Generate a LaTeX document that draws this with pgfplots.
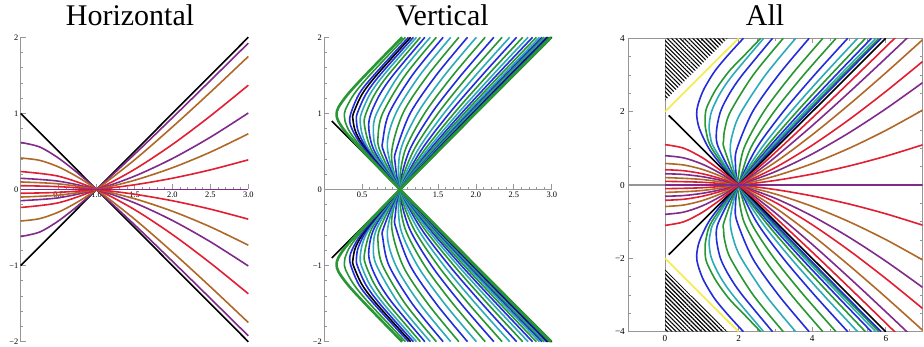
\documentclass[border=0pt]{standalone}
\usepackage{fontspec}
\setmainfont{Liberation Serif}
\usepackage{pgfplots}
\pgfplotsset{compat=1.18}
\usetikzlibrary{patterns.meta}

\definecolor{mpurple}{RGB}{128,42,140}
\definecolor{mbrown}{RGB}{176,104,40}
\definecolor{mred}{RGB}{225,30,50}
\definecolor{mblue}{RGB}{35,45,215}
\definecolor{mcyan}{RGB}{45,170,185}
\definecolor{mgreen}{RGB}{40,150,50}
\definecolor{myellow}{RGB}{245,235,70}
\definecolor{axgray}{RGB}{150,150,150}

\pgfplotsset{
  mid/.style={
    scale only axis, width=113.8pt, height=152.2pt, anchor=south west,
    xmin=0, xmax=3, ymin=-2, ymax=2, enlargelimits=false, clip=false,
    axis lines=middle,
    every inner x axis line/.append style={-},
    every inner y axis line/.append style={-},
    axis line style={axgray, line width=0.6pt},
    xtick={0.5,1,1.5,2,2.5,3}, xticklabels={0.5,1.0,1.5,2.0,2.5,3.0},
    ytick={-2,-1,0,1,2}, yticklabels={−2,−1,0,1,2},
    minor x tick num=4, minor y tick num=4,
    tick style={axgray, line width=0.4pt},
    major tick length=2.5pt, minor tick length=1.3pt,
    tick align=inside,
    tick label style={font=\fontsize{4.2}{5}\selectfont, inner sep=1pt},
    hide obscured x ticks=false, hide obscured y ticks=false,
    every axis plot/.append style={line width=0.8pt},
  },
}

\begin{document}
\begin{tikzpicture}
\useasboundingbox (0,0) rectangle (462pt,173.5pt);

% ---------------- Horizontal ----------------
\begin{axis}[mid, at={(10.35pt,2.65pt)}]
\addplot[black, sharp plot] coordinates {(0,1)(1,0)(3,-2)};
\addplot[black, sharp plot] coordinates {(0,-1)(1,0)(3,2)};
\addplot[mpurple, smooth] coordinates {(0,0.618)(0.25,0.559)(0.5,0.411)(0.75,0.217)(1,0)(1.5,-0.463)(2,-0.943)(2.5,-1.431)(3,-1.923)};
\addplot[mpurple, smooth] coordinates {(0,-0.618)(0.25,-0.559)(0.5,-0.411)(0.75,-0.217)(1,0)(1.5,0.463)(2,0.943)(2.5,1.431)(3,1.923)};
\addplot[mbrown, smooth] coordinates {(0,0.414)(0.25,0.383)(0.5,0.296)(0.75,0.164)(1,0)(1.5,-0.389)(2,-0.822)(2.5,-1.278)(3,-1.748)};
\addplot[mbrown, smooth] coordinates {(0,-0.414)(0.25,-0.383)(0.5,-0.296)(0.75,-0.164)(1,0)(1.5,0.389)(2,0.822)(2.5,1.278)(3,1.748)};
\addplot[mred, smooth] coordinates {(0,0.236)(0.5,0.174)(1,0)(1.5,-0.264)(2,-0.592)(2.5,-0.966)(3,-1.370)};
\addplot[mred, smooth] coordinates {(0,-0.236)(0.5,-0.174)(1,0)(1.5,0.264)(2,0.592)(2.5,0.966)(3,1.370)};
\addplot[mpurple, smooth] coordinates {(0,0.147)(0.5,0.109)(1,0)(1.5,-0.175)(2,-0.407)(2.5,-0.687)(3,-1.005)};
\addplot[mpurple, smooth] coordinates {(0,-0.147)(0.5,-0.109)(1,0)(1.5,0.175)(2,0.407)(2.5,0.687)(3,1.005)};
\addplot[mbrown, smooth] coordinates {(0,0.099)(0.5,0.074)(1,0)(1.5,-0.121)(2,-0.286)(2.5,-0.491)(3,-0.732)};
\addplot[mbrown, smooth] coordinates {(0,-0.099)(0.5,-0.074)(1,0)(1.5,0.121)(2,0.286)(2.5,0.491)(3,0.732)};
\addplot[mred, smooth] coordinates {(0,0.050)(0.5,0.0375)(1,0)(1.5,-0.062)(2,-0.148)(2.5,-0.258)(3,-0.390)};
\addplot[mred, smooth] coordinates {(0,-0.050)(0.5,-0.0375)(1,0)(1.5,0.062)(2,0.148)(2.5,0.258)(3,0.390)};
\addplot[mpurple, sharp plot] coordinates {(0,0)(3,0)};
\end{axis}

% ---------------- Vertical ----------------
\begin{axis}[mid, at={(162.1pt,2.65pt)}]
\addplot[black, sharp plot] coordinates {(0.1,0.9)(1,0)(3,2)};
\addplot[black, sharp plot] coordinates {(0.1,-0.9)(1,0)(3,-2)};
\addplot[mblue, smooth] coordinates {(2.236,-2)(1.803,-1.5)(1.414,-1)(1.118,-0.5)(1,0)(1.118,0.5)(1.414,1)(1.803,1.5)(2.236,2)};
\addplot[mgreen, smooth] coordinates {(2.345,-2)(1.903,-1.5)(1.500,-1)(1.172,-0.5)(1,0)(1.061,0.5)(1.323,1)(1.696,1.5)(2.122,2)};
\addplot[mgreen, smooth] coordinates {(2.345,2)(1.903,1.5)(1.500,1)(1.172,0.5)(1,0)(1.061,-0.5)(1.323,-1)(1.696,-1.5)(2.122,-2)};
\addplot[mcyan, smooth] coordinates {(2.445,-2)(1.996,-1.5)(1.578,-1)(1.223,-0.5)(1,0)(1.003,0.5)(1.229,1)(1.586,1.5)(2.005,2)};
\addplot[mcyan, smooth] coordinates {(2.445,2)(1.996,1.5)(1.578,1)(1.223,0.5)(1,0)(1.003,-0.5)(1.229,-1)(1.586,-1.5)(2.005,-2)};
\addplot[mblue, smooth] coordinates {(2.536,-2)(2.080,-1.5)(1.648,-1)(1.268,-0.5)(1,0)(0.934,0.358)(0.944,0.5)(1.133,1)(1.475,1.5)(1.889,2)};
\addplot[mblue, smooth] coordinates {(2.536,2)(2.080,1.5)(1.648,1)(1.268,0.5)(1,0)(0.934,-0.358)(0.944,-0.5)(1.133,-1)(1.475,-1.5)(1.889,-2)};
\addplot[mgreen, smooth] coordinates {(2.617,-2)(2.153,-1.5)(1.710,-1)(1.309,-0.5)(1,0)(0.887,0.462)(1.037,1)(1.365,1.5)(1.775,2)};
\addplot[mgreen, smooth] coordinates {(2.617,2)(2.153,1.5)(1.710,1)(1.309,0.5)(1,0)(0.887,-0.462)(1.037,-1)(1.365,-1.5)(1.775,-2)};
\addplot[mcyan, smooth] coordinates {(2.687,-2)(2.217,-1.5)(1.763,-1)(1.343,-0.5)(1,0)(0.832,0.555)(0.944,1)(1.259,1.5)(1.668,2)};
\addplot[mcyan, smooth] coordinates {(2.687,2)(2.217,1.5)(1.763,1)(1.343,0.5)(1,0)(0.832,-0.555)(0.944,-1)(1.259,-1.5)(1.668,-2)};
\addplot[mblue, smooth] coordinates {(2.746,-2)(2.271,-1.5)(1.808,-1)(1.373,-0.5)(1,0)(0.784,0.5)(0.772,0.635)(0.854,1)(1.160,1.5)(1.568,2)};
\addplot[mblue, smooth] coordinates {(2.746,2)(2.271,1.5)(1.808,1)(1.373,0.5)(1,0)(0.784,-0.5)(0.772,-0.635)(0.854,-1)(1.160,-1.5)(1.568,-2)};
\addplot[mgreen, smooth] coordinates {(2.796,-2)(2.316,-1.5)(1.846,-1)(1.398,-0.5)(1,0)(0.739,0.5)(0.710,0.704)(0.770,1)(1.067,1.5)(1.478,2)};
\addplot[mgreen, smooth] coordinates {(2.796,2)(2.316,1.5)(1.846,1)(1.398,0.5)(1,0)(0.739,-0.5)(0.710,-0.704)(0.770,-1)(1.067,-1.5)(1.478,-2)};
\addplot[mcyan, smooth] coordinates {(2.837,-2)(2.353,-1.5)(1.877,-1)(1.418,-0.5)(1,0)(0.699,0.5)(0.648,0.762)(0.691,1)(0.983,1.5)(1.398,2)};
\addplot[mcyan, smooth] coordinates {(2.837,2)(2.353,1.5)(1.877,1)(1.418,0.5)(1,0)(0.699,-0.5)(0.648,-0.762)(0.691,-1)(0.983,-1.5)(1.398,-2)};
\addplot[mblue, smooth] coordinates {(2.870,-2)(2.383,-1.5)(1.903,-1)(1.435,-0.5)(1,0)(0.664,0.5)(0.587,0.810)(0.617,1)(0.734,1.25)(0.906,1.5)(1.327,2)};
\addplot[mblue, smooth] coordinates {(2.870,2)(2.383,1.5)(1.903,1)(1.435,0.5)(1,0)(0.664,-0.5)(0.587,-0.810)(0.617,-1)(0.734,-1.25)(0.906,-1.5)(1.327,-2)};
\addplot[mgreen, smooth] coordinates {(2.897,-2)(2.407,-1.5)(1.923,-1)(1.449,-0.5)(1,0)(0.634,0.5)(0.530,0.848)(0.551,1)(0.665,1.25)(0.840,1.5)(1.268,2)};
\addplot[mgreen, smooth] coordinates {(2.897,2)(2.407,1.5)(1.923,1)(1.449,0.5)(1,0)(0.634,-0.5)(0.530,-0.848)(0.551,-1)(0.665,-1.25)(0.840,-1.5)(1.268,-2)};
\addplot[mcyan, smooth] coordinates {(2.919,-2)(2.427,-1.5)(1.939,-1)(1.460,-0.5)(1,0)(0.608,0.5)(0.508,0.7)(0.475,0.880)(0.490,1)(0.602,1.25)(0.781,1.5)(1.216,2)};
\addplot[mcyan, smooth] coordinates {(2.919,2)(2.427,1.5)(1.939,1)(1.460,0.5)(1,0)(0.608,-0.5)(0.508,-0.7)(0.475,-0.880)(0.490,-1)(0.602,-1.25)(0.781,-1.5)(1.216,-2)};
\addplot[mblue, smooth] coordinates {(2.936,-2)(2.442,-1.5)(1.952,-1)(1.468,-0.5)(1,0)(0.587,0.5)(0.453,0.75)(0.425,0.905)(0.436,1)(0.548,1.25)(0.731,1.5)(1.175,2)};
\addplot[mblue, smooth] coordinates {(2.936,2)(2.442,1.5)(1.952,1)(1.468,0.5)(1,0)(0.587,-0.5)(0.453,-0.75)(0.425,-0.905)(0.436,-1)(0.548,-1.25)(0.731,-1.5)(1.175,-2)};
\addplot[black, smooth] coordinates {(2.950,-2)(2.455,-1.5)(1.963,-1)(1.475,-0.5)(1,0)(0.569,0.5)(0.417,0.75)(0.378,0.926)(0.385,1)(0.498,1.25)(0.688,1.5)(1.139,2)};
\addplot[black, smooth] coordinates {(2.950,2)(2.455,1.5)(1.963,1)(1.475,0.5)(1,0)(0.569,-0.5)(0.417,-0.75)(0.378,-0.926)(0.385,-1)(0.498,-1.25)(0.688,-1.5)(1.139,-2)};
\addplot[mblue, smooth] coordinates {(2.961,-2)(2.465,-1.5)(1.971,-1)(1.480,-0.5)(1,0)(0.556,0.5)(0.388,0.75)(0.337,0.941)(0.457,1.25)(0.653,1.5)(1.111,2)};
\addplot[mblue, smooth] coordinates {(2.961,2)(2.465,1.5)(1.971,1)(1.480,0.5)(1,0)(0.556,-0.5)(0.388,-0.75)(0.337,-0.941)(0.457,-1.25)(0.653,-1.5)(1.111,-2)};
\addplot[mgreen, smooth] coordinates {(2.976,-2)(2.478,-1.5)(1.982,-1)(1.488,-0.5)(1,0)(0.535,0.5)(0.341,0.75)(0.274,0.9)(0.266,0.964)(0.280,1.05)(0.391,1.25)(0.598,1.5)(1.070,2)};
\addplot[mgreen, smooth] coordinates {(2.976,2)(2.478,1.5)(1.982,1)(1.488,0.5)(1,0)(0.535,-0.5)(0.341,-0.75)(0.274,-0.9)(0.266,-0.964)(0.280,-1.05)(0.391,-1.25)(0.598,-1.5)(1.070,-2)};
\addplot[mgreen, smooth, line width=1.3pt] coordinates {(2.991,-2)(2.492,-1.5)(1.993,-1)(1.496,-0.5)(1,0)(0.513,0.5)(0.287,0.75)(0.185,0.9)(0.163,0.987)(0.188,1.08)(0.310,1.25)(0.539,1.5)(1.027,2)};
\addplot[mgreen, smooth, line width=1.3pt] coordinates {(2.991,2)(2.492,1.5)(1.993,1)(1.496,0.5)(1,0)(0.513,-0.5)(0.287,-0.75)(0.185,-0.9)(0.163,-0.987)(0.188,-1.08)(0.310,-1.25)(0.539,-1.5)(1.027,-2)};
\end{axis}

% ---------------- All ----------------
\begin{axis}[
  at={(314.1pt,7.65pt)}, anchor=south west,
  scale only axis, width=147.2pt, height=146.7pt,
  xmin=-1, xmax=7, ymin=-4, ymax=4, enlargelimits=false,
  axis line style={axgray, line width=0.6pt},
  xtick={0,2,4,6}, xticklabels={0,2,4,6},
  ytick={-4,-2,0,2,4}, yticklabels={−4,−2,0,2,4},
  minor x tick num=3, minor y tick num=3,
  tick style={axgray, line width=0.4pt},
  major tick length=2.5pt, minor tick length=1.3pt,
  tick align=inside,
  tick label style={font=\fontsize{4.6}{5}\selectfont, inner sep=1.5pt},
  every axis plot/.append style={line width=0.8pt},
]
\addplot[axgray, line width=0.9pt, sharp plot] coordinates {(-1,0)(7,0)};
\addplot[axgray, line width=0.5pt, sharp plot] coordinates {(0,-4)(0,4)};
\addplot[draw=none, pattern={Lines[angle=-45, distance=1.5pt, line width=0.55pt]}] coordinates {(0,2.3)(0,4)(1.7,4)} -- cycle;
\addplot[draw=none, pattern={Lines[angle=-45, distance=1.5pt, line width=0.55pt]}] coordinates {(0,-2.3)(0,-4)(1.7,-4)} -- cycle;
\addplot[myellow, sharp plot] coordinates {(0,2)(2,4)};
\addplot[myellow, sharp plot] coordinates {(0,-2)(2,-4)};
% vertical family
\addplot[mgreen, smooth] coordinates {(4.647,-4)(3.768,-3)(2.966,-2)(2.324,-1)(2,0)(1.990,0.199)(2.145,1)(2.684,2)(3.436,3)(4.290,4)};
\addplot[mgreen, smooth] coordinates {(4.647,4)(3.768,3)(2.966,2)(2.324,1)(2,0)(1.990,-0.199)(2.145,-1)(2.684,-2)(3.436,-3)(4.290,-4)};
\addplot[mblue, smooth] coordinates {(4.966,-4)(4.061,-3)(3.214,-2)(2.483,-1)(2,0)(1.913,0.583)(1.958,1)(2.381,2)(3.083,3)(3.917,4)};
\addplot[mblue, smooth] coordinates {(4.966,4)(4.061,3)(3.214,2)(2.483,1)(2,0)(1.913,-0.583)(1.958,-1)(2.381,-2)(3.083,-3)(3.917,-4)};
\addplot[mcyan, smooth] coordinates {(5.234,-4)(4.306,-3)(3.420,-2)(2.617,-1)(2,0)(1.774,0.924)(1.865,1.5)(2.074,2)(2.730,3)(3.551,4)};
\addplot[mcyan, smooth] coordinates {(5.234,4)(4.306,3)(3.420,2)(2.617,1)(2,0)(1.774,-0.924)(1.865,-1.5)(2.074,-2)(2.730,-3)(3.551,-4)};
\addplot[mgreen, smooth] coordinates {(5.447,-4)(4.500,-3)(3.583,-2)(2.724,-1)(2,0)(1.607,1)(1.593,1.209)(1.620,1.5)(1.779,2)(2.397,3)(3.214,4)};
\addplot[mgreen, smooth] coordinates {(5.447,4)(4.500,3)(3.583,2)(2.724,1)(2,0)(1.607,-1)(1.593,-1.209)(1.620,-1.5)(1.779,-2)(2.397,-3)(3.214,-4)};
\addplot[mblue, smooth] coordinates {(5.609,-4)(4.647,-3)(3.705,-2)(2.805,-1)(2,0)(1.461,1)(1.396,1.433)(1.507,2)(1.757,2.5)(2.099,3)(2.922,4)};
\addplot[mblue, smooth] coordinates {(5.609,4)(4.647,3)(3.705,2)(2.805,1)(2,0)(1.461,-1)(1.396,-1.433)(1.507,-2)(1.757,-2.5)(2.099,-3)(2.922,-4)};
\addplot[mcyan, smooth] coordinates {(5.728,-4)(4.755,-3)(3.795,-2)(2.864,-1)(2,0)(1.341,1)(1.236,1.3)(1.199,1.601)(1.263,2)(1.498,2.5)(1.842,3)(2.682,4)};
\addplot[mcyan, smooth] coordinates {(5.728,4)(4.755,3)(3.795,2)(2.864,1)(2,0)(1.341,-1)(1.236,-1.3)(1.199,-1.601)(1.263,-2)(1.498,-2.5)(1.842,-3)(2.682,-4)};
\addplot[mgreen, smooth] coordinates {(5.813,-4)(4.831,-3)(3.859,-2)(2.906,-1)(2,0)(1.27,1)(1.11,1.5)(1.09,1.8)(1.13,2.1)(1.38,2.6)(1.74,3.1)(2.17,3.55)(2.60,4)};
\addplot[mgreen, smooth] coordinates {(5.813,4)(4.831,3)(3.859,2)(2.906,1)(2,0)(1.27,-1)(1.11,-1.5)(1.09,-1.8)(1.13,-2.1)(1.38,-2.6)(1.74,-3.1)(2.17,-3.55)(2.60,-4)};
\addplot[mblue, smooth] coordinates {(5.872,-4)(4.885,-3)(3.904,-2)(2.936,-1)(2,0)(1.562,0.5)(1.19,1)(0.93,1.55)(0.86,1.93)(0.90,2.2)(1.05,2.6)(1.35,3.1)(1.72,3.55)(2.13,4)};
\addplot[mblue, smooth] coordinates {(5.872,4)(4.885,3)(3.904,2)(2.936,1)(2,0)(1.562,-0.5)(1.19,-1)(0.93,-1.55)(0.86,-1.93)(0.90,-2.2)(1.05,-2.6)(1.35,-3.1)(1.72,-3.55)(2.13,-4)};
\addplot[black, sharp plot] coordinates {(0.1,1.9)(2,0)(6,-4)};
\addplot[black, sharp plot] coordinates {(0.1,-1.9)(2,0)(6,4)};
% horizontal family
\addplot[mred, smooth] coordinates {(0,0.100)(1,0.075)(2,0)(3,-0.125)(4,-0.298)(5,-0.518)(6,-0.785)(7,-1.095)};
\addplot[mred, smooth] coordinates {(0,-0.100)(1,-0.075)(2,0)(3,0.125)(4,0.298)(5,0.518)(6,0.785)(7,1.095)};
\addplot[mbrown, smooth] coordinates {(0,0.202)(1,0.151)(2,0)(3,-0.247)(4,-0.583)(5,-1.000)(6,-1.489)(7,-2.042)};
\addplot[mbrown, smooth] coordinates {(0,-0.202)(1,-0.151)(2,0)(3,0.247)(4,0.583)(5,1.000)(6,1.489)(7,2.042)};
\addplot[mpurple, smooth] coordinates {(0,0.307)(0.5,0.288)(1,0.229)(1.5,0.133)(2,0)(3,-0.365)(4,-0.846)(5,-1.423)(6,-2.077)(7,-2.791)};
\addplot[mpurple, smooth] coordinates {(0,-0.307)(0.5,-0.288)(1,-0.229)(1.5,-0.133)(2,0)(3,0.365)(4,0.846)(5,1.423)(6,2.077)(7,2.791)};
\addplot[mred, smooth] coordinates {(0,0.417)(0.5,0.390)(1,0.310)(1.5,0.178)(2,0)(3,-0.477)(4,-1.083)(5,-1.782)(6,-2.550)(7,-3.367)};
\addplot[mred, smooth] coordinates {(0,-0.417)(0.5,-0.390)(1,-0.310)(1.5,-0.178)(2,0)(3,0.477)(4,1.083)(5,1.782)(6,2.550)(7,3.367)};
\addplot[mbrown, smooth] coordinates {(0,0.587)(0.5,0.547)(1,0.430)(1.5,0.245)(2,0)(3,-0.623)(4,-1.369)(5,-2.190)(6,-3.059)(7,-3.961)};
\addplot[mbrown, smooth] coordinates {(0,-0.587)(0.5,-0.547)(1,-0.430)(1.5,-0.245)(2,0)(3,0.623)(4,1.369)(5,2.190)(6,3.059)(7,3.961)};
\addplot[mpurple, smooth] coordinates {(0,0.800)(0.5,0.741)(1,0.574)(1.5,0.319)(2,0)(2.5,-0.365)(3,-0.762)(4,-1.618)(5,-2.523)(6,-3.457)(7,-4.408)};
\addplot[mpurple, smooth] coordinates {(0,-0.800)(0.5,-0.741)(1,-0.574)(1.5,-0.319)(2,0)(2.5,0.365)(3,0.762)(4,1.618)(5,2.523)(6,3.457)(7,4.408)};
\addplot[mred, smooth] coordinates {(0,1.101)(0.5,1.006)(1,0.754)(1.5,0.404)(2,0)(2.5,-0.435)(3,-0.889)(4,-1.829)(5,-2.791)(6,-3.765)(6.5,-4.255)};
\addplot[mred, smooth] coordinates {(0,-1.101)(0.5,-1.006)(1,-0.754)(1.5,-0.404)(2,0)(2.5,0.435)(3,0.889)(4,1.829)(5,2.791)(6,3.765)(6.5,4.255)};
\addplot[mpurple, sharp plot] coordinates {(0,0)(7,0)};
\end{axis}

\node[anchor=base, font=\fontsize{15}{18}\selectfont] at (65pt,160.5pt) {Horizontal};
\node[anchor=base, font=\fontsize{15}{18}\selectfont] at (221pt,160.5pt) {Vertical};
\node[anchor=base, font=\fontsize{15}{18}\selectfont] at (382.5pt,160.5pt) {All};
\end{tikzpicture}
\end{document}
